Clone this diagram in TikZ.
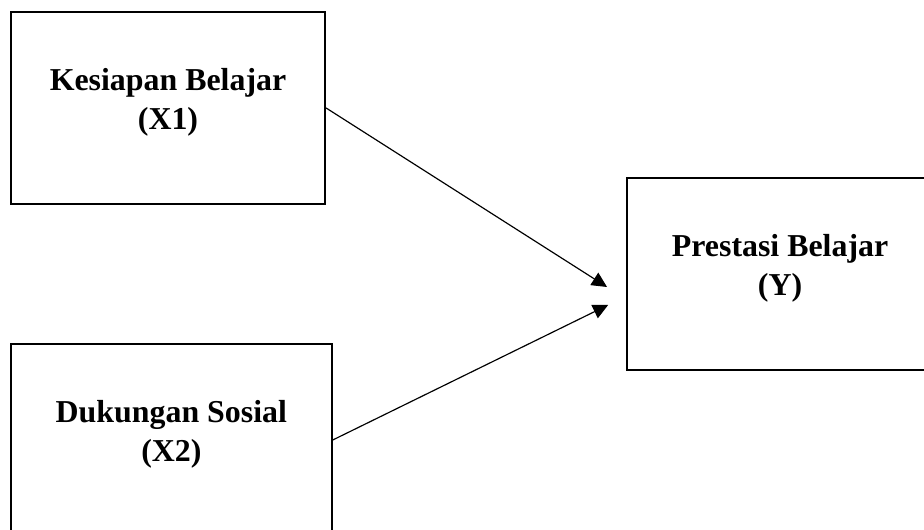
\documentclass[tikz,border=0pt]{standalone}
\usepackage{fontspec}
\setmainfont{Liberation Serif}
\usetikzlibrary{arrows.meta, positioning}

\begin{document}
\begin{tikzpicture}[
    x=1cm, y=1cm,
    varbox/.style={
        rectangle, draw, line width=1pt,
        minimum height=3.43cm, text depth=0.33cm,
        font=\fontsize{16.2}{19.6}\selectfont\bfseries, align=center
    },
    link/.style={
        -{Triangle[length=0.27cm, width=0.26cm]}, line width=0.6pt
    }
]

    \useasboundingbox (0,0) rectangle (16.5,9.464);

    \node[varbox, minimum width=5.61cm] (x1) at (3.0, 7.536) {Kesiapan Belajar\\(X1)};
    \node[varbox, minimum width=5.73cm] (x2) at (3.06, 1.607) {Dukungan Sosial\\(X2)};
    \node[varbox, minimum width=5.46cm] (y)  at (13.93, 4.571) {Prestasi Belajar\\(Y)};

    \coordinate (yIn1) at (10.84, 4.339);
    \coordinate (yIn2) at (10.86, 4.018);

    \draw[link] (x1.east) -- (yIn1);
    \draw[link] (x2.east) -- (yIn2);
\end{tikzpicture}
\end{document}
